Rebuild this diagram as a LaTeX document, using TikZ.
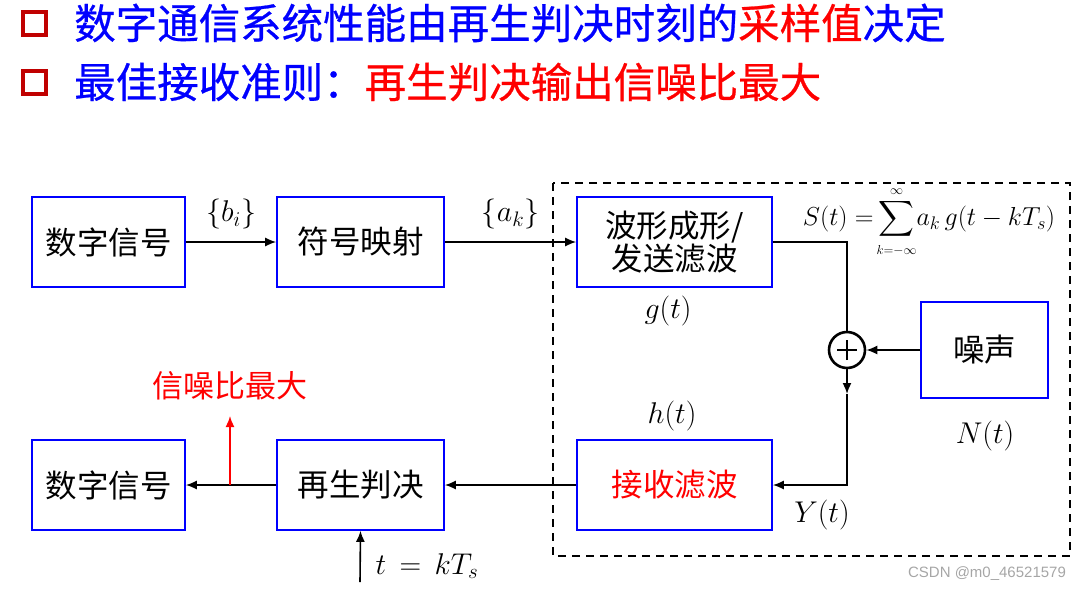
\RequirePackage{fix-cm}
\documentclass[tikz,border=0pt]{standalone}
\usepackage{amsmath}
\usepackage{fontspec}
\newfontfamily\cjk{Noto Sans CJK SC}
\newfontfamily\cjkt[FakeBold=0.6]{Noto Sans CJK SC}
\newfontfamily\wmfont{Liberation Sans}
\usetikzlibrary{arrows.meta}
\definecolor{sqred}{RGB}{192,0,0}
\definecolor{tblue}{RGB}{0,0,255}
\begin{document}
\begin{tikzpicture}[x=1pt,y=-1pt,
  blk/.style={draw=tblue,line width=1.6pt,inner sep=0pt,minimum width=153pt,minimum height=90pt,font=\cjk\fontsize{31.5}{35}\selectfont,align=center},
  conn/.style={line width=1.6pt,-{Latex[length=11pt,width=9pt]}},
  plain/.style={line width=1.6pt},
  lbl/.style={inner sep=0pt,font=\fontsize{30}{30}\selectfont},
  ttl/.style={anchor=west,inner sep=0pt,font=\cjkt\fontsize{41.5}{42}\selectfont}]
\useasboundingbox (0,0) rectangle (1090,592);
% title
\draw[sqred,line width=3.5pt] (23,12) rectangle (46,35);
\draw[sqred,line width=3.5pt] (23,71) rectangle (46,94);
\node[ttl] (t1) at (74,23) {\textcolor{tblue}{数字通信系统性能由再生判决时刻的}\textcolor{red}{采样值}\textcolor{tblue}{决定}};
\node[ttl] (t2) at (74,82) {\textcolor{tblue}{最佳接收准则：}\textcolor{red}{再生判决输出信噪比最大}};
% dashed frame
\draw[dashed,line width=1.6pt,dash pattern=on 8pt off 6pt] (553,183) rectangle (1070,556);
% blocks
\node[blk] (ds1) at (108.5,242) {数字信号};
\node[blk,minimum width=167pt] (map) at (360.5,242) {符号映射};
\node[blk,minimum width=195pt] (tx) at (674.5,242) {波形成形/\\[-2pt]发送滤波};
\node[blk,minimum width=127pt,minimum height=96pt] (noise) at (984.5,350) {噪声};
\node[blk,minimum width=195pt,text=red] (rx) at (674.5,485) {接收滤波};
\node[blk,minimum width=167pt] (dec) at (360.5,485) {再生判决};
\node[blk] (ds2) at (108.5,485) {数字信号};
% adder
\node[draw,circle,line width=2.6pt,minimum size=36pt,inner sep=0pt] (add) at (847,350) {};
\draw[line width=2.4pt] ([xshift=-10pt]add.center) -- ([xshift=10pt]add.center);
\draw[line width=2.4pt] ([yshift=-10pt]add.center) -- ([yshift=10pt]add.center);
% connectors
\draw[conn] (ds1) -- (map) node[midway,lbl,above=12pt] (bi) {$\{b_i\}$};
\draw[conn] (map) -- (tx) node[midway,lbl,above=12pt] (ak) {$\{a_k\}$};
\draw[plain] (tx.east) -| (add.north);
\draw[conn] (noise.west) -- (add.east);
\coordinate (mid) at (847,394);
\draw[conn] (add.south) -- (mid);
\draw[conn] (mid) |- (rx.east);
\draw[conn] (rx) -- (dec);
\draw[conn] (dec) -- (ds2);
\coordinate (tap) at (230,485);
\coordinate (tapup) at (230,416);
\draw[conn,red] (tap) -- (tapup);
\node[inner sep=0pt,text=red,font=\cjk\fontsize{31}{31}\selectfont] (snr) at (230,386) {信噪比最大};
\coordinate (samp) at (360,582);
\draw[conn] (samp) -- (dec.south);
% labels
\node[lbl] (tk) at (427,566) {$t\,=\,kT_s$};
\node[lbl] (gt) at (668,311) {$g(t)$};
\node[lbl] (ht) at (672,416) {$h(t)$};
\node[lbl] (nt) at (985,436) {$N(t)$};
\node[lbl] (yt) at (822,515) {$Y(t)$};
\node[inner sep=0pt,font=\fontsize{26}{26}\selectfont] (st) at (929,222) {$\displaystyle S(t)=\!\sum_{\scriptscriptstyle k=-\infty}^{\scriptscriptstyle\infty}\! a_k\, g(t-kT_s)$};
\node[inner sep=0pt,text=black!35,font=\wmfont\fontsize{15}{15}\selectfont] (wm) at (987,574) {CSDN @m0\_46521579};
\end{tikzpicture}
\end{document}
